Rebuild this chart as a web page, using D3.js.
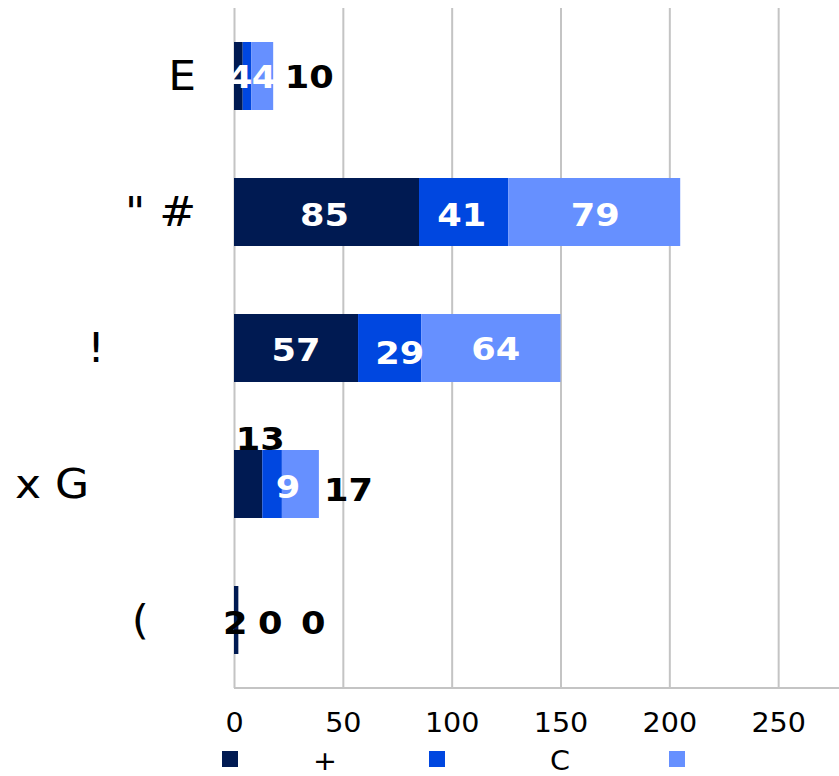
<!DOCTYPE html>
<html><head><meta charset="utf-8">
<script src="https://cdn.jsdelivr.net/npm/d3@7"></script>
<style>html,body{margin:0;padding:0;background:#fff;} svg{display:block;}</style>
</head><body>
<svg id="chart" width="839" height="776"></svg>
<script>
// ---- data ----
const categories = ["E", "\"\u00A0#", "!", "x G", "("];
const seriesNames = ["+", "C", ""];
const seriesA = [4, 85, 57, 13, 2];
const seriesB = [4, 41, 29, 9, 0];
const seriesC = [10, 79, 64, 17, 0];
const xTicks = [0, 50, 100, 150, 200, 250];

// ---- layout / style ----
const colors = ["#001a52", "#0047e0", "#6690ff"];
const W = 839, H = 776;
const plot = {left: 234, top: 8, bottom: 688, right: 887};
const stretch = 1.1;
const catShift = [0, 0, -91, -107, -47];          // horizontal shift of category labels
// label nudges: [dx, dy, outside(black)]
const labelNudge = [
  [[2,0,0],[17,0,0],[47,0,1]],
  [[-2,2,0],[-2,2,0],[1,2,0]],
  [[0,1,0],[10,4,0],[5,0,0]],
  [[12,-46,1],[16,2,0],[48,5,1]],
  [[-1,2,1],[32,2,1],[75,2,1]]
];
const legendX = [222, 429, 669];
const legendTextDx = [91, 121, 0];

const svg = d3.select("#chart");
const x = d3.scaleLinear().domain([0, 300]).range([plot.left, plot.right]);
const y = d3.scaleBand().domain(d3.range(categories.length)).range([plot.top, plot.bottom])
  .paddingInner(0.5).paddingOuter(0.25);

const seriesVals = [seriesA, seriesB, seriesC];
const table = categories.map((c, i) => ({i, a: seriesA[i], b: seriesB[i], c: seriesC[i]}));
const stack = d3.stack().keys(["a","b","c"])(table);

// grid
svg.append("g").attr("transform", `translate(0,${plot.bottom})`)
  .call(d3.axisBottom(x).tickValues(xTicks).tickSize(-(plot.bottom - plot.top)).tickFormat(""))
  .call(g => g.select(".domain").remove())
  .call(g => g.selectAll("line").attr("stroke", "#c4c4c4").attr("stroke-width", 2));
// base line
svg.append("line").attr("x1", plot.left).attr("x2", W).attr("y1", plot.bottom).attr("y2", plot.bottom)
  .attr("stroke", "#c4c4c4").attr("stroke-width", 2);

// bars
stack.forEach((layer, si) => {
  svg.append("g").attr("fill", colors[si]).selectAll("rect").data(layer).join("rect")
    .attr("x", d => x(d[0]))
    .attr("width", d => x(d[1]) - x(d[0]))
    .attr("y", (d, i) => y(i))
    .attr("height", y.bandwidth());
});

// value labels
stack.forEach((layer, si) => {
  svg.append("g").selectAll("text").data(layer).join("text")
    .attr("transform", (d, i) => {
      const n = labelNudge[i][si];
      const cx = (x(d[0]) + x(d[1])) / 2 + n[0];
      const cy = y(i) + y.bandwidth() / 2 + n[1];
      return `translate(${cx},${cy}) scale(${stretch},1)`;
    })
    .attr("text-anchor", "middle")
    .attr("dy", "0.36em")
    .attr("font-family", "DejaVu Sans")
    .attr("font-weight", "bold")
    .attr("font-size", 32)
    .attr("fill", (d, i) => labelNudge[i][si][2] ? "#000" : "#fff")
    .text((d, i) => seriesVals[si][i]);
});

// x tick labels
svg.append("g").attr("transform", `translate(0,${plot.bottom})`)
  .call(d3.axisBottom(x).tickValues(xTicks).tickSize(0).tickPadding(26))
  .call(g => g.select(".domain").remove())
  .call(g => g.selectAll("text")
    .attr("font-family", "DejaVu Sans").attr("font-size", 26).attr("fill", "#000")
    .attr("transform", `scale(${stretch},1)`));

// category labels
svg.append("g").selectAll("text").data(categories).join("text")
  .attr("transform", (d, i) => `translate(${196 + catShift[i]},${y(i) + y.bandwidth()/2}) scale(${stretch},1)`)
  .attr("text-anchor", "end")
  .attr("dy", "0.36em")
  .attr("font-family", "DejaVu Sans")
  .attr("font-size", 40)
  .attr("fill", "#000")
  .text(d => d);

// legend
const lg = svg.append("g");
seriesNames.forEach((name, si) => {
  lg.append("rect").attr("x", legendX[si]).attr("y", 751).attr("width", 16).attr("height", 16)
    .attr("fill", colors[si]);
  if (name) {
    lg.append("text")
      .attr("transform", `translate(${legendX[si] + legendTextDx[si]},770) scale(${stretch},1)`)
      .attr("font-family", "DejaVu Sans").attr("font-size", 26).attr("fill", "#000")
      .text(name);
  }
});
</script>
</body></html>
